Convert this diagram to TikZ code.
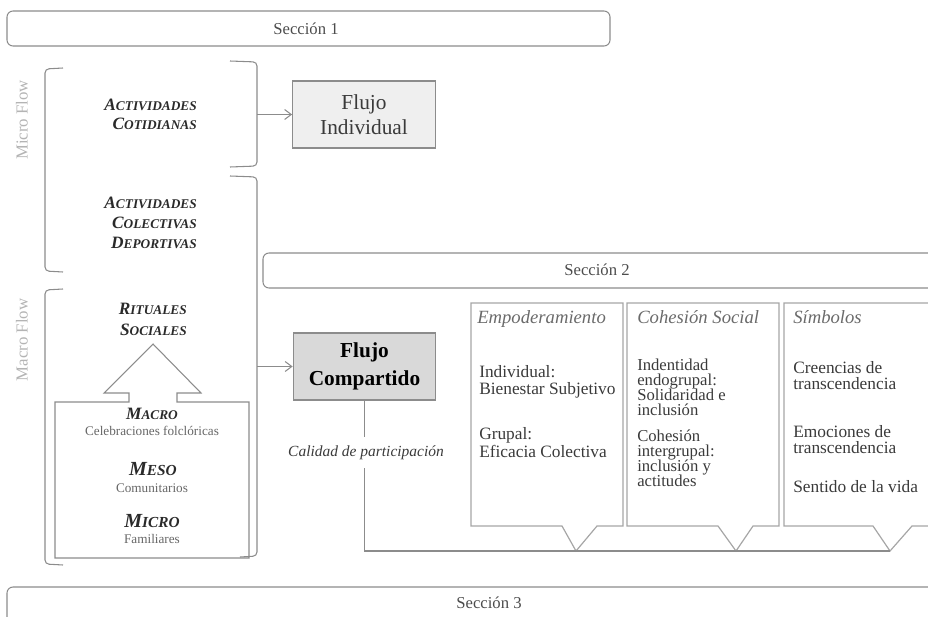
\documentclass[tikz,border=0pt]{standalone}
\usepackage{fontspec}
\setmainfont{Liberation Serif}
\usetikzlibrary{arrows.meta}

\definecolor{linegray}{HTML}{8C8C8C}
\definecolor{softgray}{HTML}{A6A6A6}
\definecolor{labelgray}{HTML}{B4B4B4}
\definecolor{inkdark}{HTML}{2A2A2A}
\definecolor{inkbody}{HTML}{3A3A3A}
\definecolor{headgray}{HTML}{6A6A6A}
\definecolor{lightfill}{HTML}{EFEFEF}
\definecolor{midfill}{HTML}{D9D9D9}

% faked small capitals: large initial, smaller remainder
\newcommand\capsA[2]{{\fontsize{13}{13}\selectfont #1}{\fontsize{10}{10}\selectfont #2}}
\newcommand\capsB[2]{{\fontsize{15}{15}\selectfont #1}{\fontsize{11.5}{12}\selectfont #2}}

\begin{document}
\begin{tikzpicture}[x=0.75pt,y=-0.75pt,
  thinline/.style={draw=linegray, line width=0.8pt},
  bracket/.style={draw=linegray, line width=0.8pt, rounded corners=3pt},
  sectionbox/.style={draw=linegray, line width=0.8pt, rounded corners=4.5pt},
  sectiontext/.style={text=black!70, font=\fontsize{12.5}{14}\selectfont, inner sep=0pt},
  sidelabel/.style={rotate=90, text=labelgray, font=\fontsize{12.6}{14}\selectfont, inner sep=0pt},
  actlabel/.style={anchor=base east, text=inkdark, font=\bfseries\itshape, inner sep=0pt},
  lvltitle/.style={anchor=base, text=inkdark, font=\bfseries\itshape, inner sep=0pt},
  lvlsub/.style={anchor=base, text=black!60, font=\fontsize{9.9}{11}\selectfont, inner sep=0pt},
  flowbox/.style={draw=linegray, line width=0.8pt, align=center, inner sep=0pt,
    minimum width=107pt, minimum height=50.25pt},
  callout/.style={draw=softgray, line width=0.9pt},
  calloutHead/.style={anchor=base west, text=headgray, font=\itshape\fontsize{14}{16}\selectfont, inner sep=0pt},
  calloutText/.style={anchor=base west, text=inkbody, font=\fontsize{13}{14}\selectfont, inner sep=0pt},
  tightText/.style={anchor=base west, text=inkbody, font=\fontsize{12.5}{13}\selectfont, inner sep=0pt},
  conn/.style={draw=linegray, line width=0.8pt, -{Straight Barb[length=5pt,width=7.5pt]}}
]
\useasboundingbox (0,0) rectangle (928,617);
\clip (0,0) rectangle (928,617);

% ---- section bars ----
\draw[sectionbox] (7,11) rectangle (610,46);
\node[sectiontext] (sec1) at (306,28.5) {Sección 1};
\draw[sectionbox] (263,253) rectangle (950,288);
\node[sectiontext] (sec2) at (597,270) {Sección 2};
\draw[sectionbox] (7,587) rectangle (950,650);
\node[sectiontext] (sec3) at (489,603) {Sección 3};

% ---- left brackets and their labels ----
\draw[bracket] (63,68) -- (45,69) -- (45,271) -- (63,272);
\draw[bracket] (63,289) -- (45,290) -- (45,564) -- (63,565);
\node[sidelabel] (micro) at (22,120) {Micro Flow};
\node[sidelabel] (macro) at (22,340) {Macro Flow};

% ---- right brackets ----
\draw[bracket] (230,61) -- (257,62) -- (257,166) -- (230,167);
\draw[bracket] (230,176) -- (257,177) -- (257,556) -- (240,557);
\coordinate (br1) at (257,114.5);
\coordinate (br2) at (257,366.5);

% ---- activity labels ----
\node[actlabel] (a1) at (197,111) {\capsA{A}{CTIVIDADES}};
\node[actlabel] (a2) at (197,129) {\capsA{C}{OTIDIANAS}};
\node[actlabel] (a3) at (197,208) {\capsA{A}{CTIVIDADES}};
\node[actlabel] (a4) at (197,228) {\capsA{C}{OLECTIVAS}};
\node[actlabel] (a5) at (197,248) {\capsA{D}{EPORTIVAS}};
\node[actlabel] (a6) at (187,314) {\capsA{R}{ITUALES}};
\node[actlabel] (a7) at (187,335) {\capsA{S}{OCIALES}};

% ---- levels box with the upward arrow ----
\draw[thinline] (55,402) -- (129,402) -- (129,393) -- (104,393) -- (153,344)
  -- (201,393) -- (177,393) -- (177,402) -- (249,402) -- (249,558) -- (55,558) -- cycle;
\node[lvltitle] (l1) at (152,419) {\capsA{M}{ACRO}};
\node[lvlsub]   (l2) at (152,435) {Celebraciones folclóricas};
\node[lvltitle] (l3) at (153,475) {\capsB{M}{ESO}};
\node[lvlsub]   (l4) at (152,492) {Comunitarios};
\node[lvltitle] (l5) at (152,527) {\capsB{M}{ICRO}};
\node[lvlsub]   (l6) at (152,543) {Familiares};

% ---- flow boxes ----
\node[flowbox, fill=lightfill, text=inkbody, font=\fontsize{16}{18.5}\selectfont]
  (fi) at (364,114.5) {Flujo\\Individual};
\node[flowbox, fill=midfill, text=black, font=\bfseries\fontsize{16}{21}\selectfont]
  (fc) at (364.5,366.5) {Flujo\\Compartido};
\draw[conn] (br1) -- (fi.west);
\draw[conn] (br2) -- (fc.west);

% ---- callout boxes ----
\draw[callout] (471,303) -- (623,303) -- (623,526) -- (597,526) -- (576,551)
  -- (562,526) -- (471,526) -- cycle;
\draw[callout] (627,303) -- (779,303) -- (779,526) -- (753,526) -- (736,551)
  -- (718,526) -- (627,526) -- cycle;
\draw[callout] (784,303) -- (950,303) -- (950,526) -- (912,526) -- (890,551)
  -- (873,526) -- (784,526) -- cycle;

\node[calloutHead] (h1) at (477,323) {Empoderamiento};
\node[calloutText] (e1) at (479,377) {Individual:};
\node[calloutText] (e2) at (479,394) {Bienestar Subjetivo};
\node[calloutText] (e3) at (479,439) {Grupal:};
\node[calloutText] (e4) at (479,457) {Eficacia Colectiva};

\node[calloutHead] (h2) at (637,323) {Cohesión Social};
\node[tightText] (c1) at (637,370) {Indentidad};
\node[tightText] (c2) at (637,385) {endogrupal:};
\node[tightText] (c3) at (637,400) {Solidaridad e};
\node[tightText] (c4) at (637,415) {inclusión};
\node[tightText] (c5) at (637,441) {Cohesión};
\node[tightText] (c6) at (637,456) {intergrupal:};
\node[tightText] (c7) at (637,471) {inclusión y};
\node[tightText] (c8) at (637,486) {actitudes};

\node[calloutHead] (h3) at (793,323) {Símbolos};
\node[calloutText] (s1) at (793,373) {Creencias de};
\node[calloutText] (s2) at (793,389) {transcendencia};
\node[calloutText] (s3) at (793,437) {Emociones de};
\node[calloutText] (s4) at (793,453) {transcendencia};
\node[calloutText] (s5) at (793,492) {Sentido de la vida};

% ---- participation connector ----
\node[text=inkbody, font=\itshape\fontsize{11.6}{13}\selectfont, inner sep=0pt,
  minimum height=23.25pt] (cp) at (366,452.5) {Calidad de participación};
\coordinate (sv) at (890,551);
\draw[thinline] (fc.south) -- (fc.south |- cp.north);
\draw[thinline] (cp.south -| fc.south) |- (sv);
\end{tikzpicture}
\end{document}
